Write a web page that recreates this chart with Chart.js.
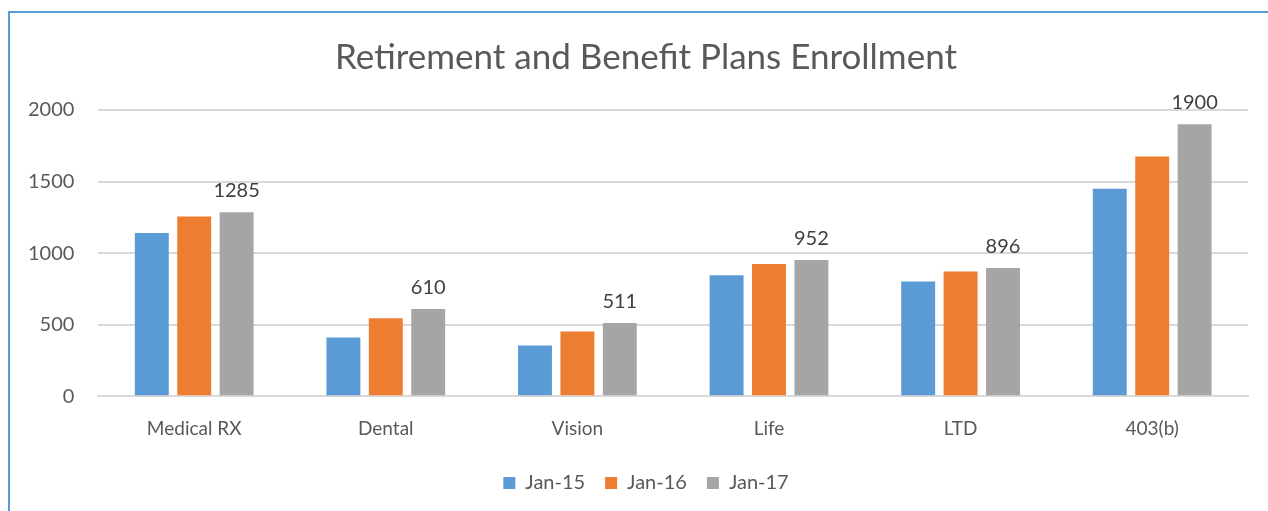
<!DOCTYPE html>
<html>
<head>
<meta charset="utf-8">
<script src="https://cdn.jsdelivr.net/npm/chart.js@4"></script>
<style>
    html, body { margin: 0; padding: 0; background: #fff; overflow: hidden; }
    #wrap { position: relative; width: 1268px; height: 511px; overflow: hidden; }
    #frame {
        position: absolute; left: 8px; top: 11px; width: 1300px; height: 600px;
        border-top: 2px solid #5b9bd5; border-left: 2px solid #5b9bd5;
    }
    canvas { position: absolute; left: 0; top: 0; }
</style>
</head>
<body>
<div id="wrap">
    <div id="frame"></div>
    <!-- the original chart runs past the right edge of the picture -->
    <canvas id="planChart" width="1290" height="511"></canvas>
</div>
<script>
// Enrollment per plan
const plans = ["Medical RX", "Dental", "Vision", "Life", "LTD", "403(b)"];
const jan15 = [1140, 410, 355, 845, 801, 1450];
const jan16 = [1255, 545, 453, 924, 871, 1675];
const jan17 = [1285, 610, 511, 952, 896, 1900];
const yTicks = [0, 500, 1000, 1500, 2000];

const FONT = "Lato, 'Open Sans', sans-serif";

// Only the Jan-17 series gets value labels above the bars
const lastSeriesLabels = {
    id: 'lastSeriesLabels',
    afterDatasetsDraw(chart) {
        const ctx = chart.ctx;
        const idx = chart.data.datasets.length - 1;
        const meta = chart.getDatasetMeta(idx);
        ctx.save();
        ctx.font = "20px " + FONT;
        ctx.fillStyle = '#404040';
        ctx.textAlign = 'center';
        ctx.textBaseline = 'alphabetic';
        meta.data.forEach((bar, i) => {
            ctx.fillText(chart.data.datasets[idx].data[i], bar.x, bar.y - 15);
        });
        ctx.restore();
    }
};

const initChart = () => {
    const ctx = document.getElementById('planChart').getContext('2d');
    new Chart(ctx, {
        type: 'bar',
        data: {
            labels: plans,
            datasets: [
                { label: 'Jan-15', data: jan15, backgroundColor: '#5b9bd5' },
                { label: 'Jan-16', data: jan16, backgroundColor: '#ed7d31' },
                { label: 'Jan-17', data: jan17, backgroundColor: '#a5a5a5' }
            ]
        },
        options: {
            responsive: false,
            animation: false,
            categoryPercentage: 0.664,
            barPercentage: 0.8,
            layout: { padding: { left: 4, right: 2, top: 14, bottom: 8 } },
            plugins: {
                title: {
                    display: true,
                    text: 'Retirement and Benefit Plans Enrollment',
                    color: '#595959',
                    font: { family: FONT, size: 35, weight: 'normal' },
                    padding: { top: 23, bottom: 31 }
                },
                legend: {
                    position: 'bottom',
                    labels: {
                        color: '#595959',
                        font: { family: FONT, size: 20 },
                        boxWidth: 12,
                        boxHeight: 12,
                        padding: 20
                    }
                },
                tooltip: { enabled: false }
            },
            scales: {
                x: {
                    grid: { display: false },
                    border: { color: '#d9d9d9', width: 2 },
                    ticks: { color: '#595959', font: { family: FONT, size: 19 }, padding: 13 }
                },
                y: {
                    min: 0,
                    max: 2000,
                    afterBuildTicks: (axis) => { axis.ticks = yTicks.map(v => ({ value: v })); },
                    grid: { color: '#d9d9d9', lineWidth: 2, drawTicks: false },
                    border: { display: false },
                    ticks: {
                        color: '#595959',
                        font: { family: FONT, size: 20 },
                        padding: 24,
                        callback: (v) => String(v)
                    }
                },
                // empty spacer on the right, keeps the plot end where the original has it
                spacer: {
                    type: 'linear',
                    position: 'right',
                    grid: { display: false },
                    border: { display: false },
                    ticks: { display: false },
                    afterFit: (axis) => { axis.width = 40; }
                }
            }
        },
        plugins: [lastSeriesLabels]
    });
};

document.addEventListener('DOMContentLoaded', initChart);
</script>
</body>
</html>
